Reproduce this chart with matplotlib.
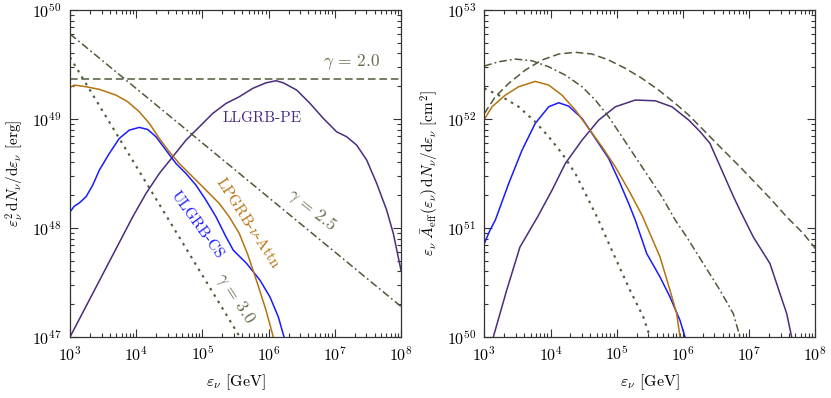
import numpy as np
import matplotlib
matplotlib.use("Agg")
import matplotlib.pyplot as plt
from matplotlib.ticker import LogLocator, NullFormatter

plt.rcParams['font.family'] = 'serif'
plt.rcParams['font.serif'] = ['cmr10', 'DejaVu Serif']
plt.rcParams['mathtext.fontset'] = 'cm'
plt.rcParams['axes.formatter.use_mathtext'] = True

# ---------------- Left panel data (log10 E [GeV], log10 value [erg]) ----------------
L_pe_logE = [3.0, 3.947, 4.148, 4.349, 4.551, 4.752, 4.953, 5.156, 5.357, 5.557, 5.76,
             5.961, 6.112, 6.222, 6.425, 6.626, 6.826, 7.029, 7.18, 7.331, 7.482, 7.633,
             7.784, 7.884, 8.0]
L_pe_logY = [47.0, 48.102, 48.317, 48.500, 48.653, 48.806, 48.928, 49.051, 49.143, 49.204, 49.281,
             49.332, 49.351, 49.332, 49.265, 49.143, 49.006, 48.882, 48.837, 48.760, 48.623, 48.409,
             48.163, 47.950, 47.612]

L_cs_logE = [3.0, 3.065, 3.14, 3.242, 3.343, 3.443, 3.594, 3.745, 3.896, 4.047, 4.174, 4.299,
             4.45, 4.601, 4.752, 4.903, 5.054, 5.206, 5.357, 5.467, 5.669, 5.87, 6.021, 6.147, 6.233]
L_cs_logY = [48.148, 48.200, 48.230, 48.286, 48.393, 48.531, 48.684, 48.822, 48.898, 48.923, 48.904, 48.837,
             48.714, 48.592, 48.500, 48.393, 48.255, 48.102, 47.918, 47.796, 47.674, 47.521, 47.367,
             47.184, 47.0]

L_at_logE = [3.0, 3.065, 3.242, 3.443, 3.695, 3.872, 4.047, 4.198, 4.349, 4.5, 4.651, 4.802,
             4.953, 5.104, 5.255, 5.406, 5.557, 5.689, 5.84, 5.961, 6.071]
L_at_logY = [49.290, 49.311, 49.296, 49.272, 49.219, 49.158, 49.066, 48.960, 48.822, 48.699, 48.592, 48.500,
             48.409, 48.317, 48.225, 48.102, 47.950, 47.750, 47.475, 47.245, 47.0]

L_g20_logE = [3.0, 8.0]
L_g20_logY = [49.364, 49.364]
L_g25_logE = [3.0, 8.0]
L_g25_logY = [49.78, 47.28]
L_g30_logE = [3.0, 5.566]
L_g30_logY = [49.566, 47.0]

# ---------------- Right panel data (log10 E [GeV], log10 value [cm^2]) ----------------
R_g20_logE = [3.0, 3.166, 3.369, 3.619, 3.872, 4.124, 4.375, 4.627, 4.879, 5.13, 5.382, 5.634,
              5.885, 6.088, 6.263, 6.56, 6.862, 7.315, 7.568, 7.819, 8.0]
R_g20_logY = [52.05, 52.204, 52.327, 52.449, 52.541, 52.596, 52.612, 52.596, 52.541, 52.465, 52.373, 52.265,
              52.143, 52.036, 51.928, 51.745, 51.561, 51.274, 51.102, 50.950, 50.812]

R_g25_logE = [3.0, 3.218, 3.468, 3.721, 3.973, 4.224, 4.476, 4.677, 4.879, 5.08, 5.281, 5.483,
              5.684, 5.885, 6.057, 6.308, 6.56, 6.761, 6.863]
R_g25_logY = [52.486, 52.525, 52.550, 52.534, 52.479, 52.403, 52.296, 52.174, 52.020, 51.837, 51.653, 51.469,
              51.286, 51.072, 50.918, 50.674, 50.429, 50.215, 50.0]

R_g30_logE = [3.0, 3.267, 3.52, 3.77, 3.973, 4.174, 4.375, 4.526, 4.702, 4.949, 5.201, 5.402, 5.503]
R_g30_logY = [52.281, 52.204, 52.112, 51.974, 51.837, 51.684, 51.500, 51.317, 51.102, 50.766, 50.429,
              50.184, 50.0]

R_at_logE = [3.0, 3.116, 3.317, 3.52, 3.77, 3.973, 4.174, 4.375, 4.577, 4.778, 4.979, 5.181,
             5.382, 5.654, 5.805, 5.906, 5.956]
R_at_logY = [51.996, 52.112, 52.219, 52.296, 52.345, 52.311, 52.219, 52.082, 51.914, 51.745, 51.561, 51.347,
             51.118, 50.735, 50.429, 50.215, 50.0]

R_cs_logE = [3.0, 3.086, 3.166, 3.369, 3.57, 3.77, 3.973, 4.124, 4.275, 4.476, 4.677, 4.879,
             5.03, 5.181, 5.281, 5.453, 5.654, 5.805, 5.956, 6.032]
R_cs_logY = [50.858, 50.980, 51.072, 51.409, 51.714, 51.960, 52.112, 52.149, 52.118, 52.006, 51.822, 51.638,
             51.439, 51.225, 51.072, 50.766, 50.551, 50.367, 50.153, 50.0]

R_pe_logE = [3.136, 3.338, 3.539, 3.807, 4.023, 4.224, 4.476, 4.728, 4.979, 5.281, 5.583, 5.835,
             6.088, 6.263, 6.409, 6.61, 6.761, 6.862, 7.063, 7.315, 7.466, 7.568, 7.643]
R_pe_logY = [50.0, 50.429, 50.826, 51.104, 51.347, 51.592, 51.806, 51.990, 52.112, 52.174, 52.167, 52.112,
             51.990, 51.882, 51.776, 51.500, 51.292, 51.163, 50.918, 50.674, 50.399, 50.215, 50.0]

C_PE = '#4a2c7e'
C_CS = '#1a1aff'
C_AT = '#b5730f'
C_REF = '#4e5a3a'
C_TXT = '#666c4c'


def p(a):
    return 10.0 ** np.asarray(a)


fig = plt.figure(figsize=(8.31, 3.98), dpi=100)
axL = fig.add_axes([70 / 831, 1 - 337 / 398, 331 / 831, 327 / 398])
axR = fig.add_axes([484.3 / 831, 1 - 337 / 398, 331 / 831, 327 / 398])

lw = 1.1
dash = dict(dashes=(5, 2.5))
dashdot = dict(dashes=(5, 2, 1.2, 2))
dot = dict(dashes=(1.2, 2.4))

for ax, d in [(axL, dict(pe=(L_pe_logE, L_pe_logY), cs=(L_cs_logE, L_cs_logY), at=(L_at_logE, L_at_logY),
                         g20=(L_g20_logE, L_g20_logY), g25=(L_g25_logE, L_g25_logY), g30=(L_g30_logE, L_g30_logY))),
              (axR, dict(pe=(R_pe_logE, R_pe_logY), cs=(R_cs_logE, R_cs_logY), at=(R_at_logE, R_at_logY),
                         g20=(R_g20_logE, R_g20_logY), g25=(R_g25_logE, R_g25_logY), g30=(R_g30_logE, R_g30_logY)))]:
    ax.plot(p(d['pe'][0]), p(d['pe'][1]), color=C_PE, lw=lw, solid_joinstyle='round')
    ax.plot(p(d['cs'][0]), p(d['cs'][1]), color=C_CS, lw=lw, solid_joinstyle='round')
    ax.plot(p(d['at'][0]), p(d['at'][1]), color=C_AT, lw=lw, solid_joinstyle='round')
    ax.plot(p(d['g20'][0]), p(d['g20'][1]), color=C_REF, lw=lw, **dash)
    ax.plot(p(d['g25'][0]), p(d['g25'][1]), color=C_REF, lw=lw, **dashdot)
    ax.plot(p(d['g30'][0]), p(d['g30'][1]), color=C_REF, lw=1.5, **dot)

for ax, ylo, yhi in [(axL, 1e47, 1e50), (axR, 1e50, 1e53)]:
    ax.set_xscale('log')
    ax.set_yscale('log')
    ax.set_xlim(1e3, 1e8)
    ax.set_ylim(ylo, yhi)
    ax.xaxis.set_major_locator(LogLocator(base=10, numticks=10))
    ax.xaxis.set_minor_locator(LogLocator(base=10, subs=np.arange(2, 10), numticks=20))
    ax.yaxis.set_major_locator(LogLocator(base=10, numticks=10))
    ax.yaxis.set_minor_locator(LogLocator(base=10, subs=np.arange(2, 10), numticks=20))
    ax.xaxis.set_minor_formatter(NullFormatter())
    ax.yaxis.set_minor_formatter(NullFormatter())
    ax.tick_params(which='both', direction='in', top=True, right=True, labelsize=11.5,
                   color='#333333', width=0.8)
    ax.tick_params(which='major', length=6, pad=6)
    ax.tick_params(which='minor', length=3)
    for s in ax.spines.values():
        s.set_color('#333333')
        s.set_linewidth(0.9)
    ax.set_xlabel(r'$\varepsilon_\nu$ [GeV]', fontsize=11.5, labelpad=6)

axL.set_ylabel(r'$\varepsilon_\nu^2\,\mathrm{d}N_\nu/\mathrm{d}\varepsilon_\nu$ [erg]', fontsize=11, labelpad=4)
axR.set_ylabel(r'$\varepsilon_\nu\ \bar{A}_{\rm eff}(\varepsilon_\nu)\,\mathrm{d}N_\nu/\mathrm{d}\varepsilon_\nu\ [\mathrm{cm}^2]$',
               fontsize=11, labelpad=4)

# Annotations (left panel)
axL.text(10 ** 7.255, 10 ** 49.525, r'$\gamma\,=\,2.0$', color=C_TXT, fontsize=12.5, ha='center', va='center')
axL.text(10 ** 5.90, 10 ** 49.008, 'LLGRB-PE', color=C_PE, fontsize=11, ha='center', va='center')
axL.text(10 ** 5.689, 10 ** 48.053, r'LPGRB-$\nu$-Attn', color=C_AT, fontsize=11, ha='center', va='center',
         rotation=-57)
axL.text(10 ** 4.918, 10 ** 48.026, 'ULGRB-CS', color=C_CS, fontsize=11, ha='center', va='center',
         rotation=-54)
axL.text(10 ** 6.656, 10 ** 48.17, r'$\gamma\,=\,2.5$', color=C_TXT, fontsize=12.5, ha='center', va='center',
         rotation=-39)
axL.text(10 ** 5.492, 10 ** 47.355, r'$\gamma\,=\,3.0$', color=C_TXT, fontsize=12.5, ha='center', va='center',
         rotation=-57)

fig.savefig('out.png', dpi=100)
